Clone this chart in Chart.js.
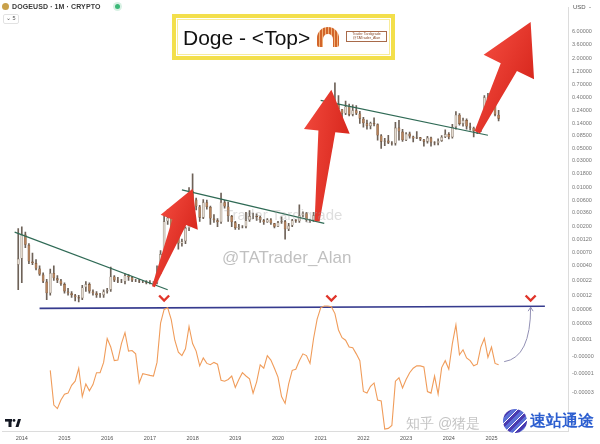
<!DOCTYPE html>
<html><head><meta charset="utf-8">
<script src="https://cdn.jsdelivr.net/npm/chart.js@4.4.1/dist/chart.umd.min.js"></script>
<style>
html,body{margin:0;padding:0;background:#fff;}
#wrap{position:relative;width:600px;height:444px;overflow:hidden;font-family:"Liberation Sans",Arial,sans-serif;}
#c{position:absolute;left:0;top:0;}
.ov{position:absolute;white-space:nowrap;line-height:1;}
</style></head><body>
<div id="wrap">
<canvas id="c" width="600" height="444"></canvas>

<div class="ov" style="left:2px;top:3px;width:7px;height:7px;border-radius:50%;background:#c9a14a;"></div>
<div class="ov" style="left:12px;top:3px;font-size:7px;font-weight:bold;color:#3a3a3a;letter-spacing:0.1px;">DOGEUSD · 1M · CRYPTO</div>
<div class="ov" style="left:115px;top:4px;width:5px;height:5px;border-radius:50%;background:#3cb878;box-shadow:0 0 0 2px #d8f1e4;"></div>
<div class="ov" style="left:3px;top:14px;font-size:5.5px;color:#555;border:1px solid #e2e2e2;border-radius:2px;padding:1px 2px;">⌄ 5</div>
<div class="ov" style="left:573px;top:4px;font-size:6px;color:#555;">USD&nbsp;&nbsp;-</div>

<div class="ov" style="left:172px;top:14px;width:215px;height:38px;border:4px solid #f3df4b;background:#fff;">
  <div class="ov" style="left:1px;top:1px;right:1px;bottom:1px;border:1px solid #f8ec9a;"></div>
  <div class="ov" style="left:7px;top:9px;font-size:21px;color:#111;font-family:'Liberation Sans',Arial,sans-serif;">Doge - &lt;Top&gt;</div>
  <div class="ov" style="left:141px;top:9px;width:22px;height:20px;border-radius:11px 11px 2px 2px;background:repeating-linear-gradient(90deg,#d2652a 0 2px,#f1b27a 2px 3px);"></div>
  <div class="ov" style="left:147px;top:16px;width:10px;height:13px;border-radius:5px 5px 0 0;background:#fff;"></div>
  <div class="ov" style="left:170px;top:13px;width:41px;height:11px;border:1px solid #a86a4a;font-size:3.6px;color:#8a4a2a;text-align:center;padding-top:1px;box-sizing:border-box;">Trader Tardigrade<br>@TATrader_Alan</div>
</div>

<div class="ov" style="left:224px;top:207px;font-size:15px;color:rgba(160,160,160,0.35);">Trader Tardigrade</div>
<div class="ov" style="left:222px;top:249px;font-size:17px;color:rgba(150,150,150,0.6);">@TATrader_Alan</div>

<div class="ov" style="left:406px;top:416px;font-size:14px;color:#c4c4c4;">知乎 @猪是</div>
<div class="ov" style="left:503px;top:409px;width:24px;height:24px;border-radius:50%;background:repeating-linear-gradient(135deg,#5b6fd6 0 3px,#ffffff 3px 4px,#4a3bb0 4px 7px);"></div>
<div class="ov" style="left:530px;top:413px;font-size:16px;font-weight:bold;color:#2d5fd0;">速站通途</div>
</div>

<script>
// ---------- data ----------
const firstMonth = '2013-08';
const lastMonth = '2026-10';
const lastYearLabel = 2025;
const candleStart = '2013-12';
const openP = [0.00042,
 0.00054,0.00145,0.00095,0.00048,0.00045,0.00036,0.00028,0.00021,0.00013,0.00030,0.00024,0.00022,
 0.00019,0.00014,0.00013,0.00012,0.00011,0.000105,0.000165,0.00019,0.00014,0.00013,0.00012,0.00012,
 0.00014,0.00015,0.00026,0.00022,0.00021,0.00021,0.00027,0.00025,0.00022,0.00022,0.00021,0.00021,
 0.00020,0.00020,0.00020,0.00030,0.00065,0.0025,0.0029,0.0019,0.0016,0.0010,0.0011,0.0019,
 0.0088,0.0061,0.0046,0.0029,0.0055,0.0045,0.0028,0.0026,0.0024,0.0055,0.0046,0.0031,
 0.0024,0.0019,0.0020,0.0020,0.0026,0.0031,0.0031,0.0030,0.0026,0.0024,0.0027,0.0023,
 0.0020,0.0024,0.0025,0.0018,0.0021,0.0026,0.0025,0.0032,0.0035,0.0026,0.0026,0.0032,
 0.0047,0.034,0.050,0.054,0.32,0.31,0.25,0.21,0.28,0.20,0.24,0.21,
 0.17,0.14,0.125,0.142,0.135,0.085,0.066,0.069,0.063,0.061,0.118,0.10,
 0.070,0.092,0.082,0.075,0.079,0.072,0.066,0.078,0.064,0.062,0.068,0.080,
 0.090,0.079,0.12,0.20,0.137,0.16,0.123,0.117,0.101,0.118,0.165,0.41,
 0.316,0.33,0.20];
const highP = [0.00186,
 0.0020,0.0016,0.0010,0.00068,0.00052,0.00040,0.00030,0.00023,0.00035,0.00040,0.00027,0.00023,
 0.00020,0.00016,0.00014,0.000125,0.00012,0.00018,0.00021,0.00020,0.00015,0.00014,0.00013,0.00015,
 0.00016,0.00038,0.00027,0.00025,0.00023,0.00029,0.00028,0.00026,0.00023,0.00023,0.00022,0.00022,
 0.00022,0.00021,0.00040,0.00075,0.0034,0.0040,0.0030,0.0023,0.0018,0.0012,0.0020,0.0100,
 0.0176,0.0065,0.0048,0.0061,0.0060,0.0047,0.0033,0.0028,0.0080,0.0059,0.0055,0.0032,
 0.0025,0.0022,0.0021,0.0036,0.0039,0.0035,0.0034,0.0031,0.0027,0.0028,0.0028,0.0023,
 0.0025,0.0030,0.0026,0.0023,0.0027,0.0027,0.0049,0.0037,0.0036,0.0027,0.0036,0.0063,
 0.087,0.087,0.066,0.44,0.74,0.44,0.25,0.35,0.31,0.30,0.29,0.23,
 0.18,0.16,0.148,0.175,0.138,0.088,0.076,0.086,0.066,0.146,0.159,0.11,
 0.096,0.098,0.083,0.10,0.079,0.073,0.082,0.080,0.066,0.074,0.085,0.107,
 0.096,0.135,0.228,0.21,0.174,0.168,0.142,0.12,0.12,0.17,0.44,0.48,
 0.43,0.33,0.24];
const lowP = [0.00015,
 0.00020,0.00085,0.00044,0.00042,0.00034,0.00027,0.00020,0.00010,0.00012,0.00022,0.00020,0.00018,
 0.00013,0.00012,0.00011,0.000095,0.00008,0.0001,0.00014,0.00013,0.00012,0.00011,0.00011,0.00011,
 0.00013,0.00014,0.00021,0.00020,0.00020,0.00019,0.00022,0.00021,0.00021,0.00020,0.00020,0.00019,
 0.00019,0.00018,0.00019,0.00029,0.00063,0.0022,0.0015,0.0015,0.0008,0.0009,0.0010,0.0017,
 0.0053,0.0040,0.0025,0.0028,0.0041,0.0022,0.0024,0.0020,0.0023,0.0043,0.0025,0.0020,
 0.0018,0.0018,0.0019,0.0019,0.0025,0.0028,0.0026,0.0024,0.0022,0.0024,0.0022,0.0019,
 0.0020,0.0023,0.0012,0.0017,0.0020,0.0024,0.0024,0.0030,0.0025,0.0024,0.0025,0.0031,
 0.0047,0.030,0.046,0.051,0.20,0.16,0.165,0.20,0.19,0.19,0.20,0.14,
 0.12,0.11,0.111,0.126,0.07,0.05,0.056,0.061,0.057,0.057,0.070,0.067,
 0.069,0.076,0.065,0.075,0.069,0.055,0.062,0.055,0.058,0.058,0.067,0.078,
 0.074,0.076,0.11,0.13,0.125,0.11,0.106,0.08,0.092,0.10,0.15,0.27,
 0.30,0.19,0.155];
const closeP = [0.00054,
 0.00145,0.00095,0.00048,0.00045,0.00036,0.00028,0.00021,0.00013,0.00030,0.00024,0.00022,0.00019,
 0.00014,0.00013,0.00012,0.00011,0.000105,0.000165,0.00019,0.00014,0.00013,0.00012,0.00012,0.00014,
 0.00015,0.00026,0.00022,0.00021,0.00021,0.00027,0.00025,0.00022,0.00022,0.00021,0.00021,0.00020,
 0.00020,0.00020,0.00030,0.00065,0.0025,0.0029,0.0019,0.0016,0.0010,0.0011,0.0019,0.0088,
 0.0061,0.0046,0.0029,0.0055,0.0045,0.0028,0.0026,0.0024,0.0055,0.0046,0.0031,0.0024,
 0.0019,0.0020,0.0020,0.0026,0.0031,0.0031,0.0030,0.0026,0.0024,0.0027,0.0023,0.0020,
 0.0024,0.0025,0.0018,0.0021,0.0026,0.0025,0.0032,0.0035,0.0026,0.0026,0.0032,0.0047,
 0.034,0.050,0.054,0.32,0.31,0.25,0.21,0.28,0.20,0.24,0.21,0.17,
 0.14,0.125,0.142,0.135,0.085,0.066,0.069,0.063,0.061,0.118,0.10,0.070,
 0.092,0.082,0.075,0.079,0.072,0.066,0.078,0.064,0.062,0.068,0.080,0.090,
 0.079,0.12,0.20,0.137,0.16,0.123,0.117,0.101,0.118,0.165,0.41,0.316,
 0.33,0.20,0.17];

const oscStart = '2014-09';
const oscValues = [45.0,16.9,14.1,21.0,
 25.7,26.6,32.9,36.2,46.7,23.8,34.0,28.5,33.5,43.1,43.1,51.4,
 70.7,63.8,52.8,53.3,66.6,75.4,60.5,61.0,58.3,34.8,42.3,41.7,
 40.9,40.4,51.4,83.1,94.2,95.5,85.9,69.3,59.7,56.9,62.4,80.4,
 66.6,60.5,48.6,55.0,50.6,49.5,51.4,50.0,37.0,36.2,37.6,40.4,
 31.2,37.6,43.1,40.4,38.2,26.6,35.7,49.5,46.7,56.9,53.3,46.7,
 39.5,23.8,18.3,34.0,45.0,45.9,52.8,58.3,56.9,50.6,70.7,86.4,
 95.5,96.9,96.9,96.4,90.8,77.6,71.3,69.3,63.8,63.2,58.3,52.8,
 27.9,26.6,32.1,34.8,21.0,20.2,-2.4,-1.9,0.4,36.2,39.0,30.7,
 37.6,43.1,46.7,48.6,48.6,47.8,27.9,26.6,40.4,25.7,47.2,52.8,
 45.9,66.6,81.7,57.5,61.6,55.0,52.8,48.6,50.0,63.8,70.7,55.5,
 63.8,50.6,49.5];

const trendStart = ['2013-11','2017-10','2021-01'];
const trendStartPrice = [0.0016,0.0091,0.36];
const trendEnd = ['2017-06','2021-02','2024-12'];
const trendEndPrice = [0.00015,0.0023,0.086];

const levelLine = [{x:'2014-06',y:95.0},{x:'2026-04',y:96.8}];
const markerMonths = ['2017-05','2021-04','2025-12'];
const markerLevel = 103;

const arrowStart = ['2017-02','2020-12','2024-09'];
const arrowStartPrice = [0.00017,0.0025,0.097];
const arrowTip = ['2018-01','2021-04','2025-12'];
const arrowTipPrice = [0.0095,0.56,9.0];

const curveFrom = {x:'2025-04', y:52};
const curveTo = {x:'2025-12', y:96};

const priceTickValues = [6,3.6,2,1.2,0.7,0.4,0.24,0.14,0.085,0.05,0.03,0.018,0.01,0.006,0.0036,0.002,0.0012,0.0007,0.0004,0.00022,0.00012];
const oscTickValues = [93.9,82.8,70.1,55.8,42.1,27.2];
const oscTickLabels = ['0.00006','0.00003','0.00001','-0.00000','-0.00001','-0.00003'];

// ---------- build ----------
function monthList(a,b){
  const out=[]; let [y,m]=a.split('-').map(Number); const [ey,em]=b.split('-').map(Number);
  while(y<ey||(y===ey&&m<=em)){ out.push(y+'-'+String(m).padStart(2,'0')); m++; if(m>12){m=1;y++;} }
  return out;
}
const labels = monthList(firstMonth,lastMonth);
const cStartIdx = labels.indexOf(candleStart);
const oStartIdx = labels.indexOf(oscStart);

const bodyData = openP.map((o,i)=>({x:labels[cStartIdx+i], y:[o, closeP[i]]}));
const wickData = openP.map((o,i)=>({x:labels[cStartIdx+i], y:[lowP[i], highP[i]]}));
const isUp = openP.map((o,i)=>closeP[i]>=o);
const oscData = oscValues.map((v,i)=>({x:labels[oStartIdx+i], y:v}));

const trendSets = trendStart.map((s,i)=>({
  type:'line', yAxisID:'y', order:0,
  data:[{x:s,y:trendStartPrice[i]},{x:trendEnd[i],y:trendEndPrice[i]}],
  borderColor:'#2f6a55', borderWidth:1.2, pointRadius:0, fill:false
}));

const overlay = {
  id:'overlay',
  afterDatasetsDraw(chart){
    const ctx=chart.ctx, xs=chart.scales.x, ys=chart.scales.y, yo=chart.scales.yOsc;
    const X = l => xs.getPixelForValue(labels.indexOf(l));
    // red arrows
    const headLen=[36,42,50], headW=[40,46,56], w0=[3,5,6], w1=[15,17,18];
    arrowStart.forEach((s,i)=>{
      const sx=X(s), sy=ys.getPixelForValue(arrowStartPrice[i]);
      const tx=X(arrowTip[i]), ty=ys.getPixelForValue(arrowTipPrice[i]);
      const L=Math.hypot(tx-sx,ty-sy), dx=(tx-sx)/L, dy=(ty-sy)/L, nx=-dy, ny=dx;
      const bx=tx-dx*headLen[i], by=ty-dy*headLen[i];
      ctx.save();
      ctx.beginPath();
      ctx.moveTo(sx+nx*w0[i]/2, sy+ny*w0[i]/2);
      ctx.lineTo(bx+nx*w1[i]/2, by+ny*w1[i]/2);
      ctx.lineTo(bx+nx*headW[i]/2, by+ny*headW[i]/2);
      ctx.lineTo(tx,ty);
      ctx.lineTo(bx-nx*headW[i]/2, by-ny*headW[i]/2);
      ctx.lineTo(bx-nx*w1[i]/2, by-ny*w1[i]/2);
      ctx.lineTo(sx-nx*w0[i]/2, sy-ny*w0[i]/2);
      ctx.closePath();
      const g=ctx.createLinearGradient(bx-nx*headW[i]/2,by-ny*headW[i]/2,bx+nx*headW[i]/2,by+ny*headW[i]/2);
      g.addColorStop(0,'#f0463a'); g.addColorStop(1,'#d8281e');
      ctx.fillStyle=g; ctx.fill();
      ctx.restore();
    });
    // chevron markers
    ctx.save();
    ctx.strokeStyle='#e0352a'; ctx.lineWidth=2.4; ctx.lineJoin='miter';
    markerMonths.forEach(m=>{
      const x=X(m), y=yo.getPixelForValue(markerLevel);
      ctx.beginPath(); ctx.moveTo(x-5,y-3); ctx.lineTo(x,y+2); ctx.lineTo(x+5,y-3); ctx.stroke();
    });
    ctx.restore();
    // gray curved arrow
    const ax=X(curveFrom.x)+2, ay=yo.getPixelForValue(curveFrom.y);
    const bx2=X(curveTo.x), by2=yo.getPixelForValue(curveTo.y);
    ctx.save();
    ctx.strokeStyle='#9290b4'; ctx.lineWidth=1;
    ctx.beginPath(); ctx.moveTo(ax,ay); ctx.quadraticCurveTo(bx2,ay-4,bx2,by2); ctx.stroke();
    ctx.beginPath(); ctx.moveTo(bx2-2.5,by2+4); ctx.lineTo(bx2,by2); ctx.lineTo(bx2+2.5,by2+4); ctx.stroke();
    ctx.restore();
    // TradingView logo (shape)
    ctx.save(); ctx.fillStyle='#131722';
    ctx.fillRect(5,419,7,2.6); ctx.fillRect(8.5,419,3,8);
    ctx.beginPath(); ctx.arc(14,420.4,1.4,0,Math.PI*2); ctx.fill();
    ctx.beginPath(); ctx.moveTo(15.5,427); ctx.lineTo(18,419); ctx.lineTo(21,419); ctx.lineTo(18.5,427); ctx.closePath(); ctx.fill();
    ctx.restore();
  }
};

const tickFont = {family:"'Liberation Sans', Arial, sans-serif", size:5.5};

new Chart(document.getElementById('c'), {
  type:'bar',
  data:{
    labels,
    datasets:[
      ...trendSets,
      {type:'line', yAxisID:'yOsc', order:0, data:oscData, borderColor:'#f09c5a', borderWidth:1.1, pointRadius:0, tension:0},
      {type:'line', yAxisID:'yOsc', order:0, data:levelLine, borderColor:'#363b8e', borderWidth:1.6, pointRadius:0},
      {type:'bar', yAxisID:'y', order:1, data:bodyData, grouped:false, barPercentage:0.78, categoryPercentage:1,
        backgroundColor:isUp.map(u=>u?'#e4dbd0':'#b7825a'), borderColor:isUp.map(u=>u?'#857565':'#7d5535'),
        borderWidth:0.6, borderSkipped:false},
      {type:'bar', yAxisID:'y', order:2, data:wickData, grouped:false, barThickness:1, backgroundColor:'#6e6258'}
    ]
  },
  options:{
    responsive:false, animation:false,
    layout:{padding:0},
    plugins:{legend:{display:false}, tooltip:{enabled:false}},
    scales:{
      x:{type:'category', offset:true, grid:{display:false, drawTicks:false},
        border:{display:true, color:'#dcdcdc'},
        ticks:{autoSkip:false, maxRotation:0, minRotation:0, padding:4, font:tickFont, color:'#555',
          callback(v){ const l=this.getLabelForValue(v); return (l.endsWith('-01') && Number(l.slice(0,4))<=lastYearLabel)? l.slice(0,4):''; }},
        afterFit(s){ s.height=13; }},
      y:{type:'logarithmic', position:'right', stack:'right', stackWeight:300, weight:0, bounds:'data',
        min:9.0e-5, max:16.5,
        grid:{display:false, drawTicks:false}, border:{display:true, color:'#dcdcdc'},
        afterBuildTicks(s){ s.ticks = priceTickValues.map(v=>({value:v})); },
        ticks:{autoSkip:false, font:tickFont, color:'#777', padding:4, callback:v=>Number(v).toFixed(5)},
        afterFit(s){ s.width=32; }},
      yOsc:{type:'linear', position:'right', stack:'right', stackWeight:131, weight:1, bounds:'data',
        min:-4, max:100,
        grid:{display:false, drawTicks:false}, border:{display:true, color:'#dcdcdc'},
        afterBuildTicks(s){ s.ticks = oscTickValues.map(v=>({value:v})); },
        ticks:{autoSkip:false, font:tickFont, color:'#777', padding:4,
          callback:(v)=>{ const i=oscTickValues.indexOf(v); return i>=0?oscTickLabels[i]:''; }},
        afterFit(s){ s.width=32; }}
    }
  },
  plugins:[overlay]
});
</script>
</body></html>
